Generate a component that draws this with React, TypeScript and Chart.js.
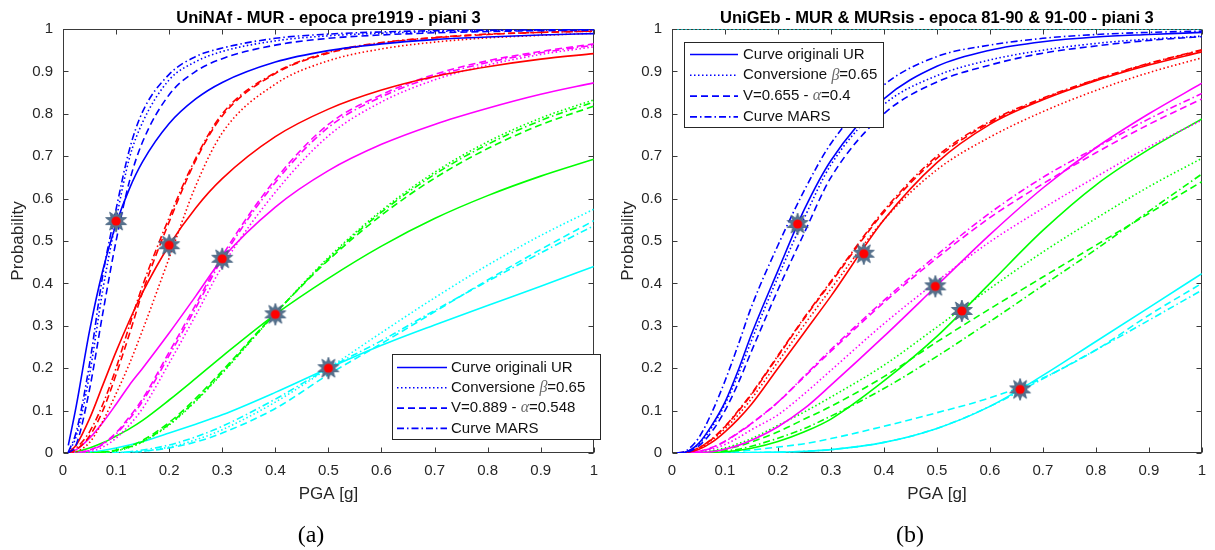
import React, { useEffect, useRef } from 'react';
import { Chart, registerables } from 'chart.js';

Chart.register(...registerables);

// ---------------- DATA ----------------
const pga = [0.01, 0.025, 0.05, 0.075, 0.1, 0.125, 0.15, 0.2, 0.25, 0.3, 0.4, 0.5, 0.6, 0.7, 0.8, 0.9, 1.0];

// Panel (a) UniNAf
const aBlueUR = [0.018, 0.111, 0.288, 0.431, 0.54, 0.623, 0.687, 0.777, 0.835, 0.874, 0.922, 0.949, 0.965, 0.975, 0.981, 0.986, 0.989];
const aBlueConv = [0.001, 0.04, 0.185, 0.385, 0.55, 0.695, 0.78, 0.88, 0.923, 0.947, 0.972, 0.984, 0.99, 0.994, 0.996, 0.997, 0.998];
const aBlueV = [0.0, 0.02, 0.15, 0.33, 0.5, 0.64, 0.734, 0.845, 0.9, 0.93, 0.962, 0.978, 0.986, 0.991, 0.994, 0.996, 0.997];
const aBlueMARS = [0.002, 0.05, 0.21, 0.42, 0.575, 0.715, 0.805, 0.893, 0.935, 0.955, 0.978, 0.988, 0.993, 0.996, 0.997, 0.998, 0.999];

const aRedUR = [0.001, 0.019, 0.081, 0.16, 0.239, 0.312, 0.379, 0.49, 0.578, 0.647, 0.746, 0.811, 0.856, 0.888, 0.911, 0.929, 0.942];
const aRedConv = [0.0, 0.003, 0.025, 0.075, 0.14, 0.21, 0.29, 0.46, 0.63, 0.755, 0.87, 0.925, 0.953, 0.969, 0.979, 0.985, 0.99];
const aRedV = [0.0, 0.008, 0.04, 0.1, 0.185, 0.28, 0.38, 0.545, 0.69, 0.795, 0.895, 0.943, 0.967, 0.979, 0.987, 0.992, 0.995];
const aRedMARS = [0.0, 0.012, 0.05, 0.115, 0.2, 0.3, 0.395, 0.555, 0.695, 0.8, 0.897, 0.945, 0.968, 0.98, 0.988, 0.992, 0.995];

const aMagUR = [0.001, 0.008, 0.035, 0.072, 0.115, 0.16, 0.2, 0.283, 0.37, 0.458, 0.58, 0.666, 0.728, 0.775, 0.813, 0.846, 0.873];
const aMagConv = [0.0, 0.0, 0.003, 0.014, 0.035, 0.066, 0.105, 0.212, 0.325, 0.44, 0.615, 0.748, 0.828, 0.88, 0.915, 0.94, 0.958];
const aMagV = [0.0, 0.001, 0.007, 0.022, 0.048, 0.085, 0.128, 0.238, 0.35, 0.465, 0.645, 0.775, 0.845, 0.893, 0.925, 0.947, 0.965];
const aMagMARS = [0.0, 0.001, 0.006, 0.02, 0.045, 0.08, 0.122, 0.23, 0.342, 0.458, 0.638, 0.768, 0.84, 0.888, 0.921, 0.944, 0.962];

const aGreenUR = [0.0, 0.003, 0.012, 0.024, 0.04, 0.057, 0.077, 0.125, 0.176, 0.228, 0.327, 0.412, 0.488, 0.553, 0.607, 0.653, 0.693];
const aGreenConv = [0.0, 0.0, 0.0, 0.001, 0.005, 0.013, 0.026, 0.066, 0.122, 0.188, 0.329, 0.461, 0.572, 0.662, 0.734, 0.79, 0.833];
const aGreenV = [0.0, 0.0, 0.0, 0.002, 0.007, 0.016, 0.03, 0.072, 0.129, 0.194, 0.33, 0.455, 0.561, 0.648, 0.718, 0.774, 0.818];
const aGreenMARS = [0.0, 0.0, 0.0, 0.002, 0.006, 0.014, 0.027, 0.068, 0.124, 0.19, 0.329, 0.458, 0.568, 0.657, 0.728, 0.784, 0.828];

const aCyanUR = [0.0, 0.0, 0.002, 0.006, 0.012, 0.019, 0.027, 0.047, 0.068, 0.09, 0.143, 0.2, 0.254, 0.302, 0.348, 0.393, 0.44];
const aCyanConv = [0.0, 0.0, 0.0, 0.0, 0.001, 0.002, 0.004, 0.014, 0.031, 0.055, 0.12, 0.2, 0.284, 0.366, 0.443, 0.513, 0.575];
const aCyanV = [0.0, 0.0, 0.0, 0.0, 0.001, 0.002, 0.004, 0.012, 0.026, 0.047, 0.105, 0.185, 0.258, 0.333, 0.408, 0.48, 0.548];
const aCyanMARS = [0.0, 0.0, 0.0, 0.0, 0.001, 0.003, 0.007, 0.019, 0.038, 0.063, 0.127, 0.2, 0.265, 0.336, 0.405, 0.472, 0.536];

const aStarX = [0.1, 0.2, 0.3, 0.4, 0.5];
const aStarY = [0.547, 0.49, 0.458, 0.327, 0.2];

// Panel (b) UniGEb
const bBlueUR = [0.0, 0.002, 0.022, 0.065, 0.12, 0.195, 0.28, 0.43, 0.575, 0.69, 0.835, 0.912, 0.95, 0.97, 0.981, 0.987, 0.992];
const bBlueConv = [0.0, 0.002, 0.02, 0.06, 0.115, 0.185, 0.265, 0.415, 0.555, 0.68, 0.822, 0.89, 0.927, 0.95, 0.966, 0.976, 0.983];
const bBlueV = [0.0, 0.001, 0.016, 0.05, 0.1, 0.165, 0.24, 0.385, 0.52, 0.65, 0.8, 0.875, 0.915, 0.943, 0.96, 0.973, 0.982];
const bBlueMARS = [0.0, 0.004, 0.035, 0.095, 0.17, 0.255, 0.345, 0.49, 0.62, 0.73, 0.868, 0.935, 0.962, 0.978, 0.987, 0.992, 0.995];

const bRedUR = [0.0, 0.001, 0.008, 0.025, 0.05, 0.08, 0.115, 0.2, 0.285, 0.37, 0.55, 0.685, 0.775, 0.833, 0.878, 0.915, 0.946];
const bRedConv = [0.0, 0.001, 0.01, 0.03, 0.057, 0.09, 0.128, 0.215, 0.303, 0.387, 0.55, 0.668, 0.745, 0.805, 0.855, 0.897, 0.932];
const bRedV = [0.0, 0.002, 0.012, 0.032, 0.062, 0.098, 0.138, 0.228, 0.318, 0.402, 0.568, 0.695, 0.779, 0.835, 0.88, 0.918, 0.95];
const bRedMARS = [0.0, 0.002, 0.012, 0.033, 0.063, 0.1, 0.14, 0.23, 0.32, 0.405, 0.572, 0.7, 0.782, 0.837, 0.881, 0.919, 0.951];

const bMagUR = [0.0, 0.0, 0.001, 0.003, 0.009, 0.018, 0.03, 0.062, 0.105, 0.16, 0.275, 0.395, 0.515, 0.625, 0.72, 0.8, 0.872];
const bMagConv = [0.0, 0.0, 0.003, 0.009, 0.02, 0.036, 0.055, 0.09, 0.14, 0.195, 0.305, 0.405, 0.498, 0.577, 0.651, 0.722, 0.785];
const bMagV = [0.0, 0.0, 0.004, 0.013, 0.028, 0.048, 0.07, 0.12, 0.18, 0.24, 0.355, 0.46, 0.555, 0.635, 0.708, 0.775, 0.835];
const bMagMARS = [0.0, 0.0, 0.004, 0.012, 0.027, 0.047, 0.069, 0.12, 0.182, 0.244, 0.36, 0.467, 0.566, 0.65, 0.72, 0.788, 0.848];

const bGreenUR = [0.0, 0.0, 0.0, 0.001, 0.003, 0.006, 0.011, 0.027, 0.05, 0.08, 0.17, 0.275, 0.4, 0.525, 0.632, 0.716, 0.788];
const bGreenConv = [0.0, 0.0, 0.001, 0.005, 0.012, 0.022, 0.034, 0.065, 0.097, 0.132, 0.207, 0.297, 0.388, 0.474, 0.553, 0.628, 0.695];
const bGreenV = [0.0, 0.0, 0.001, 0.004, 0.009, 0.016, 0.026, 0.05, 0.08, 0.11, 0.18, 0.262, 0.34, 0.415, 0.49, 0.565, 0.64];
const bGreenMARS = [0.0, 0.0, 0.0, 0.002, 0.005, 0.009, 0.016, 0.035, 0.058, 0.087, 0.152, 0.228, 0.31, 0.395, 0.48, 0.57, 0.658];

const bCyanUR = [0.0, 0.0, 0.0, 0.0, 0.0, 0.0, 0.001, 0.002, 0.004, 0.008, 0.025, 0.058, 0.11, 0.183, 0.263, 0.343, 0.423];
const bCyanConv = [1, 1, 1, 1, 1, 1, 1, 1, 1, 1, 1, 1, 1, 1, 1, 1, 1];
const bCyanV = [0.0, 0.0, 0.0, 0.001, 0.002, 0.004, 0.007, 0.014, 0.022, 0.034, 0.063, 0.095, 0.13, 0.177, 0.243, 0.325, 0.4];
const bCyanMARS = [0.0, 0.0, 0.0, 0.0, 0.0, 0.0, 0.001, 0.002, 0.004, 0.008, 0.025, 0.058, 0.11, 0.175, 0.243, 0.313, 0.384];

const bStarX = [0.237, 0.362, 0.497, 0.547, 0.657];
const bStarY = [0.54, 0.47, 0.393, 0.335, 0.15];

// Ticks & texts
const xTickValues = [0, 0.1, 0.2, 0.3, 0.4, 0.5, 0.6, 0.7, 0.8, 0.9, 1];
const xTickLabels = ['0', '0.1', '0.2', '0.3', '0.4', '0.5', '0.6', '0.7', '0.8', '0.9', '1'];
const yTickValues = [0, 0.1, 0.2, 0.3, 0.4, 0.5, 0.6, 0.7, 0.8, 0.9, 1];
const yTickLabels = ['0', '0.1', '0.2', '0.3', '0.4', '0.5', '0.6', '0.7', '0.8', '0.9', '1'];

const titleA = 'UniNAf - MUR - epoca pre1919 - piani 3';
const titleB = 'UniGEb - MUR & MURsis - epoca 81-90 & 91-00 - piani 3';
const xAxisLabel = 'PGA [g]';
const yAxisLabel = 'Probability';
const subLabelA = '(a)';
const subLabelB = '(b)';

type Part = { t: string; it?: boolean };
const legendA: Part[][] = [
  [{ t: 'Curve originali UR' }],
  [{ t: 'Conversione ' }, { t: 'β', it: true }, { t: '=0.65' }],
  [{ t: 'V=0.889 - ' }, { t: 'α', it: true }, { t: '=0.548' }],
  [{ t: 'Curve MARS' }],
];
const legendB: Part[][] = [
  [{ t: 'Curve originali UR' }],
  [{ t: 'Conversione ' }, { t: 'β', it: true }, { t: '=0.65' }],
  [{ t: 'V=0.655 - ' }, { t: 'α', it: true }, { t: '=0.4' }],
  [{ t: 'Curve MARS' }],
];

// ---------------- STYLE ----------------
const seriesColors = ['#0000ff', '#ff0000', '#ff00ff', '#00ff00', '#00ffff'];
const styleDash: number[][] = [[], [1.5, 2.5], [7, 4], [7, 3, 1.5, 3]]; // UR, Conversione, V-alpha, MARS
const FONT = "'Liberation Sans', Arial, Helvetica, sans-serif";
const SERIF = "'Liberation Serif', 'Times New Roman', serif";
const AXIS_COLOR = '#3a3a3a';
const TEXT_COLOR = '#262626';

interface Panel {
  key: string;
  title: string;
  groups: number[][][];
  starX: number[];
  starY: number[];
  legend: Part[][];
  sub: string;
  left: number;
  canvasWidth: number;
  yAxisWidth: number;
  legendBox: { x: number; y: number; w: number; h: number };
  rowStart: number;
  rowGap: number;
  sampleX0: number;
  sampleX1: number;
  textX: number;
  yLabelX: number;
  subX: number;
}

const panelA: Panel = {
  key: 'a',
  title: titleA,
  groups: [
    [aBlueUR, aBlueConv, aBlueV, aBlueMARS],
    [aRedUR, aRedConv, aRedV, aRedMARS],
    [aMagUR, aMagConv, aMagV, aMagMARS],
    [aGreenUR, aGreenConv, aGreenV, aGreenMARS],
    [aCyanUR, aCyanConv, aCyanV, aCyanMARS],
  ],
  starX: aStarX,
  starY: aStarY,
  legend: legendA,
  sub: subLabelA,
  left: 0,
  canvasWidth: 607,
  yAxisWidth: 63,
  legendBox: { x: 392, y: 354, w: 208, h: 85 },
  rowStart: 367.5,
  rowGap: 20.3,
  sampleX0: 397,
  sampleX1: 447,
  textX: 451,
  yLabelX: 18.5,
  subX: 311,
};

const panelB: Panel = {
  key: 'b',
  title: titleB,
  groups: [
    [bBlueUR, bBlueConv, bBlueV, bBlueMARS],
    [bRedUR, bRedConv, bRedV, bRedMARS],
    [bMagUR, bMagConv, bMagV, bMagMARS],
    [bGreenUR, bGreenConv, bGreenV, bGreenMARS],
    [bCyanUR, bCyanConv, bCyanV, bCyanMARS],
  ],
  starX: bStarX,
  starY: bStarY,
  legend: legendB,
  sub: subLabelB,
  left: 607,
  canvasWidth: 608,
  yAxisWidth: 65,
  legendBox: { x: 77, y: 42, w: 199, h: 85 },
  rowStart: 54.5,
  rowGap: 20.8,
  sampleX0: 83,
  sampleX1: 131,
  textX: 136,
  yLabelX: 21.5,
  subX: 303,
};

function makeStar(): HTMLCanvasElement {
  const c = document.createElement('canvas');
  c.width = 24;
  c.height = 24;
  const g = c.getContext('2d')!;
  const cx = 12, cy = 12, R = 11, r = 6, n = 10;
  g.beginPath();
  for (let k = 0; k < 2 * n; k++) {
    const ang = -Math.PI / 2 + (k * Math.PI) / n;
    const rad = k % 2 === 0 ? R : r;
    const px = cx + rad * Math.cos(ang);
    const py = cy + rad * Math.sin(ang);
    if (k === 0) g.moveTo(px, py);
    else g.lineTo(px, py);
  }
  g.closePath();
  g.fillStyle = '#56738f';
  g.fill();
  g.strokeStyle = '#3e5a78';
  g.lineWidth = 0.8;
  g.stroke();
  g.beginPath();
  g.arc(cx, cy, 4.6, 0, Math.PI * 2);
  g.fillStyle = '#ff0000';
  g.fill();
  return c;
}

function makePlugin(p: Panel) {
  return {
    id: 'decor' + p.key,
    beforeDatasetsDraw(chart: any) {
      const { ctx, chartArea, scales } = chart;
      const x = scales.x, y = scales.y;
      const L = Math.round(chartArea.left) + 0.5;
      const R = Math.round(chartArea.right) - 0.5;
      const T = Math.round(chartArea.top) + 0.5;
      const B = Math.round(chartArea.bottom) - 0.5;
      ctx.save();
      ctx.strokeStyle = AXIS_COLOR;
      ctx.lineWidth = 1;
      ctx.setLineDash([]);
      ctx.strokeRect(L, T, R - L, B - T);
      ctx.beginPath();
      for (const v of xTickValues) {
        const px = Math.round(x.getPixelForValue(v)) + 0.5;
        ctx.moveTo(px, B);
        ctx.lineTo(px, B - 5);
        ctx.moveTo(px, T);
        ctx.lineTo(px, T + 5);
      }
      for (const v of yTickValues) {
        const py = Math.round(y.getPixelForValue(v)) + 0.5;
        ctx.moveTo(L, py);
        ctx.lineTo(L + 5, py);
        ctx.moveTo(R, py);
        ctx.lineTo(R - 5, py);
      }
      ctx.stroke();
      ctx.restore();
    },
    afterDatasetsDraw(chart: any) {
      const { ctx } = chart;
      const b = p.legendBox;
      ctx.save();
      ctx.fillStyle = '#ffffff';
      ctx.fillRect(b.x, b.y, b.w, b.h);
      ctx.strokeStyle = '#262626';
      ctx.lineWidth = 1;
      ctx.setLineDash([]);
      ctx.strokeRect(b.x + 0.5, b.y + 0.5, b.w, b.h);
      p.legend.forEach((parts, i) => {
        const ry = p.rowStart + i * p.rowGap;
        ctx.strokeStyle = seriesColors[0];
        ctx.lineWidth = 1.6;
        ctx.setLineDash(styleDash[i]);
        ctx.beginPath();
        ctx.moveTo(p.sampleX0, ry);
        ctx.lineTo(p.sampleX1, ry);
        ctx.stroke();
        ctx.setLineDash([]);
        let tx = p.textX;
        ctx.textBaseline = 'middle';
        ctx.textAlign = 'left';
        for (const part of parts) {
          if (part.it) {
            ctx.font = 'italic 16px ' + SERIF;
            ctx.fillStyle = '#6a6a6a';
          } else {
            ctx.font = '15px ' + FONT;
            ctx.fillStyle = '#111111';
          }
          ctx.fillText(part.t, tx, ry);
          tx += ctx.measureText(part.t).width;
        }
      });
      ctx.restore();
    },
    afterDraw(chart: any) {
      const { ctx, chartArea } = chart;
      const cx = (chartArea.left + chartArea.right) / 2;
      const cy = (chartArea.top + chartArea.bottom) / 2;
      ctx.save();
      ctx.textAlign = 'center';
      ctx.textBaseline = 'alphabetic';
      ctx.fillStyle = '#000000';
      ctx.font = 'bold 16.5px ' + FONT;
      ctx.fillText(p.title, cx, 23);
      ctx.fillStyle = TEXT_COLOR;
      ctx.font = '17px ' + FONT;
      ctx.fillText(xAxisLabel, cx, 499);
      ctx.fillStyle = '#000000';
      ctx.font = '24px ' + SERIF;
      ctx.fillText(p.sub, p.subX, 542);
      ctx.translate(p.yLabelX, cy);
      ctx.rotate(-Math.PI / 2);
      ctx.textBaseline = 'middle';
      ctx.fillStyle = TEXT_COLOR;
      ctx.font = '17px ' + FONT;
      ctx.fillText(yAxisLabel, 0, 0);
      ctx.restore();
    },
  };
}

function PanelChart({ p }: { p: Panel }) {
  const ref = useRef<HTMLCanvasElement | null>(null);
  useEffect(() => {
    if (!ref.current) return;
    const star = makeStar();
    const datasets: any[] = [
      {
        label: 'markers',
        data: p.starX.map((x, i) => ({ x, y: p.starY[i] })),
        showLine: false,
        pointStyle: star,
        pointRadius: 11,
        pointHoverRadius: 11,
        borderColor: 'rgba(0,0,0,0)',
        backgroundColor: 'rgba(0,0,0,0)',
      },
    ];
    p.groups.forEach((grp, ci) => {
      grp.forEach((vals, si) => {
        datasets.push({
          label: ci + '-' + si,
          data: pga.map((x, i) => ({ x, y: vals[i] })),
          borderColor: seriesColors[ci],
          backgroundColor: seriesColors[ci],
          borderWidth: 1.6,
          borderDash: styleDash[si],
          pointRadius: 0,
          pointHoverRadius: 0,
          fill: false,
          cubicInterpolationMode: 'monotone',
        });
      });
    });
    const chart = new Chart(ref.current, {
      type: 'line',
      data: { datasets },
      options: {
        animation: false,
        responsive: false,
        maintainAspectRatio: false,
        devicePixelRatio: 1,
        events: [],
        layout: { padding: { top: 29, right: 4, left: 0, bottom: 0 } },
        plugins: { legend: { display: false }, title: { display: false }, tooltip: { enabled: false } },
        scales: {
          x: {
            type: 'linear',
            min: 0,
            max: 1,
            grid: { display: false, drawTicks: false },
            border: { display: false },
            afterBuildTicks: (s: any) => {
              s.ticks = xTickValues.map((v) => ({ value: v }));
            },
            afterFit: (s: any) => {
              s.height = 97;
            },
            ticks: {
              autoSkip: false,
              maxRotation: 0,
              padding: 9,
              color: TEXT_COLOR,
              font: { family: FONT, size: 15 },
              callback: (_v: any, i: number) => xTickLabels[i],
            },
          },
          y: {
            type: 'linear',
            min: 0,
            max: 1,
            grid: { display: false, drawTicks: false },
            border: { display: false },
            afterBuildTicks: (s: any) => {
              s.ticks = yTickValues.map((v) => ({ value: v }));
            },
            afterFit: (s: any) => {
              s.width = p.yAxisWidth;
            },
            ticks: {
              autoSkip: false,
              padding: 10,
              color: TEXT_COLOR,
              font: { family: FONT, size: 15 },
              callback: (_v: any, i: number) => yTickLabels[i],
            },
          },
        },
      } as any,
      plugins: [makePlugin(p)],
    });
    return () => chart.destroy();
  }, [p]);
  return (
    <canvas
      ref={ref}
      width={p.canvasWidth}
      height={550}
      style={{ position: 'absolute', left: p.left, top: 0, width: p.canvasWidth, height: 550 }}
    />
  );
}

export default function App() {
  return (
    <div style={{ position: 'absolute', left: 0, top: 0, width: 1215, height: 550, background: '#ffffff', overflow: 'hidden' }}>
      <PanelChart p={panelA} />
      <PanelChart p={panelB} />
    </div>
  );
}
